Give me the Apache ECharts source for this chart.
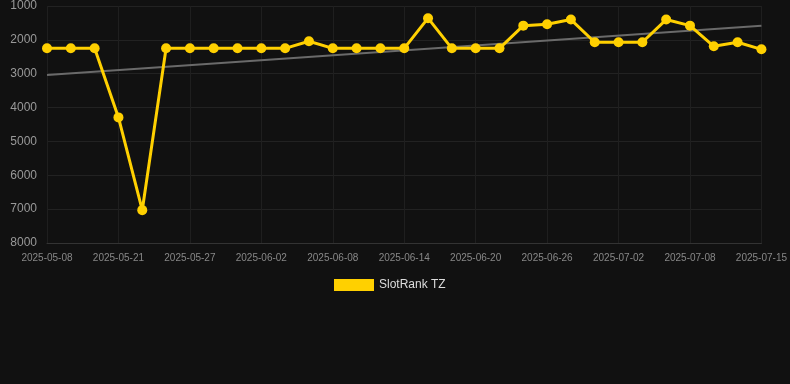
<!DOCTYPE html>
<html>
<head>
<meta charset="utf-8">
<script src="https://cdn.jsdelivr.net/npm/echarts@6/dist/echarts.min.js"></script>
<style>
  html, body { margin: 0; padding: 0; background: #111111; }
  #chart { width: 790px; height: 384px; }
</style>
</head>
<body>
<div id="chart"></div>
<script>
// Dates (only every third one is labelled in the picture)
const dates = [
  '2025-05-08', '2025-05-12', '2025-05-17', '2025-05-21', '2025-05-23', '2025-05-25',
  '2025-05-27', '2025-05-29', '2025-05-31', '2025-06-02', '2025-06-04', '2025-06-06',
  '2025-06-08', '2025-06-10', '2025-06-12', '2025-06-14', '2025-06-16', '2025-06-18',
  '2025-06-20', '2025-06-22', '2025-06-24', '2025-06-26', '2025-06-28', '2025-06-30',
  '2025-07-02', '2025-07-04', '2025-07-06', '2025-07-08', '2025-07-10', '2025-07-13',
  '2025-07-15'
];

// Rank values (lower is better, axis is inverted)
const rankValues = [
  2250, 2250, 2250, 4290, 7030, 2250, 2250, 2250, 2250, 2250, 2250, 2040,
  2250, 2250, 2250, 2250, 1360, 2250, 2250, 2250, 1580, 1540, 1400, 2070,
  2070, 2070, 1400, 1580, 2190, 2070, 2280
];

// Trend line end points [category index, value]
const trendPoints = [[0, 3040], [30, 1580]];

const yTicks = [1000, 2000, 3000, 4000, 5000, 6000, 7000, 8000];

const chart = echarts.init(document.getElementById('chart'));

chart.setOption({
  backgroundColor: '#111111',
  animation: false,
  textStyle: { fontFamily: 'Liberation Sans, Arial, sans-serif' },
  grid: { left: 47, right: 28, top: 6, bottom: 141, containLabel: false },
  legend: {
    top: 279,
    left: 334,
    padding: 0,
    itemWidth: 40,
    itemHeight: 12,
    icon: 'rect',
    textStyle: { color: '#dddddd', fontSize: 12 },
    data: ['SlotRank TZ']
  },
  xAxis: {
    type: 'category',
    boundaryGap: false,
    data: dates,
    axisLine: { lineStyle: { color: '#333333' } },
    axisTick: { show: false },
    axisLabel: { color: '#888888', fontSize: 10, interval: 2, margin: 10 },
    splitLine: { show: true, interval: 2, lineStyle: { color: '#1f1f1f' } }
  },
  yAxis: {
    type: 'value',
    inverse: true,
    min: yTicks[0],
    max: yTicks[yTicks.length - 1],
    interval: 1000,
    axisLine: { show: false },
    axisTick: { show: false },
    axisLabel: { color: '#999999', fontSize: 12, margin: 10, formatter: v => String(v) },
    splitLine: { lineStyle: { color: '#222222' } }
  },
  series: [
    {
      name: 'Trend',
      type: 'line',
      data: trendPoints,
      symbol: 'none',
      lineStyle: { color: '#6a6a6a', width: 2 },
      z: 1
    },
    {
      name: 'SlotRank TZ',
      type: 'line',
      data: rankValues,
      symbol: 'circle',
      symbolSize: 10,
      itemStyle: { color: '#ffd000' },
      lineStyle: { color: '#ffd000', width: 3 },
      z: 2
    }
  ]
});
</script>
</body>
</html>
